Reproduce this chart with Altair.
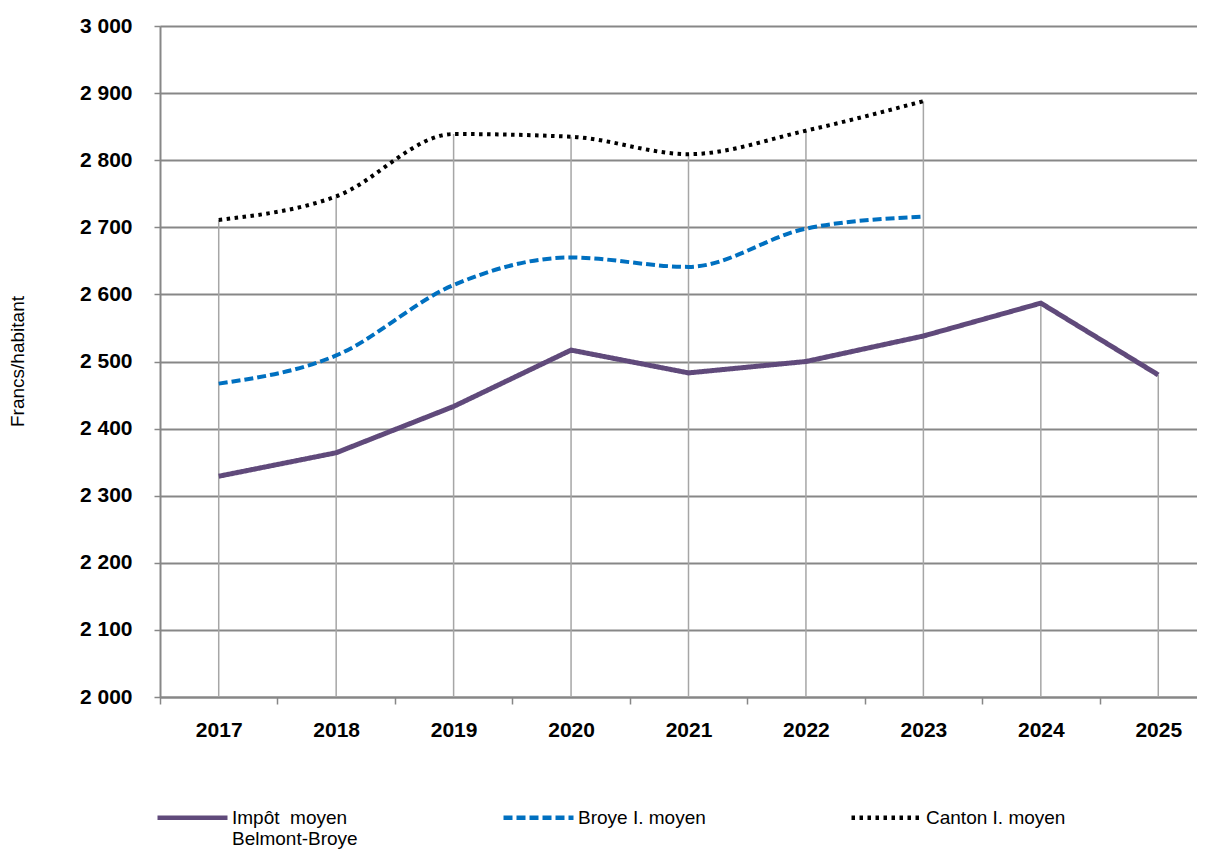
import altair as alt
import pandas as pd

years = ["2017", "2018", "2019", "2020", "2021", "2022", "2023", "2024", "2025"]
impot = [2329, 2364, 2433, 2517, 2483, 2500, 2538, 2587, 2480]
broye = [2467, 2509, 2614, 2655, 2641, 2698, 2716]
canton = [2711, 2746, 2839, 2835, 2809, 2844, 2888]

series_names = ["Impôt  moyen Belmont-Broye", "Broye I. moyen", "Canton I. moyen"]
series_colors = ["#604A7B", "#0070C0", "#000000"]
series_dash = [[1, 0], [9, 4], [3.5, 4.5]]

rows = []
for name, vals in zip(series_names, [impot, broye, canton]):
    for y, v in zip(years, vals):
        rows.append({"year": y, "value": v, "series": name})
df = pd.DataFrame(rows)

FONT = "Liberation Sans"

legend = alt.Legend(
    orient="none", legendX=-5, legendY=754, direction="horizontal", columns=3,
    title=None, symbolType="stroke", symbolSize=4900, symbolStrokeWidth=4.5,
    labelFont=FONT, labelFontSize=19, labelColor="#000000", labelOffset=2,
    columnPadding=136, padding=0, labelLimit=400,
    labelExpr="datum.label == 'Impôt  moyen Belmont-Broye' ? ['Impôt\u00a0 moyen', 'Belmont-Broye'] : [datum.label, ' ']",
)

xenc = alt.X(
    "year:O", sort=years,
    scale=alt.Scale(domain=years, range=[0, 1057], paddingInner=0, paddingOuter=0),
    axis=alt.Axis(
        title=None, labelAngle=0, labelFont=FONT, labelFontSize=21, labelFontWeight="bold",
        labelColor="#000000", labelPadding=15, tickBand="extent", tickSize=7,
        tickColor="#878787", tickWidth=1.5, domainColor="#878787", domainWidth=2, grid=False,
    ),
)
yenc = alt.Y(
    "value:Q",
    scale=alt.Scale(domain=[2000, 3000], nice=False, zero=False),
    axis=alt.Axis(
        title="Francs/habitant", titleFont=FONT, titleFontSize=19, titleFontWeight="normal",
        titleColor="#000000", titleX=-133, titleY=335,
        values=list(range(2000, 3001, 100)),
        labelExpr="replace(format(datum.value, ','), ',', ' ')",
        labelFont=FONT, labelFontSize=21, labelFontWeight="bold", labelColor="#000000",
        labelPadding=22, tickSize=6, tickColor="#878787", tickWidth=1.5,
        domainColor="#878787", domainWidth=2,
        grid=True, gridColor="#878787", gridWidth=2,
    ),
)

color = alt.Color("series:N", scale=alt.Scale(domain=series_names, range=series_colors), legend=legend)
dash = alt.StrokeDash("series:N", scale=alt.Scale(domain=series_names, range=series_dash), legend=legend)

base = alt.Chart(df)

drops = base.transform_aggregate(
    top="max(value)", groupby=["year"]
).mark_rule(color="#A6A6A6", strokeWidth=1.5).encode(
    x=xenc, y=alt.Y("top:Q", scale=alt.Scale(domain=[2000, 3000], nice=False, zero=False)),
    y2=alt.datum(2000),
)

line_straight = base.transform_filter(
    alt.datum.series == series_names[0]
).mark_line(strokeWidth=5, interpolate="linear").encode(x=xenc, y=yenc, color=color, strokeDash=dash)

line_smooth = base.transform_filter(
    alt.datum.series != series_names[0]
).mark_line(strokeWidth=4, interpolate="monotone").encode(x=xenc, y=yenc, color=color, strokeDash=dash)

chart = alt.layer(drops, line_straight, line_smooth).properties(
    width=1037, height=671,
    autosize=alt.AutoSizeParams(type="none"),
    padding={"left": 152, "top": 18, "right": 0, "bottom": 156},
).configure_view(stroke=None).configure(background="white")

chart.save("out.html", embed_options={"renderer": "svg", "actions": False})
